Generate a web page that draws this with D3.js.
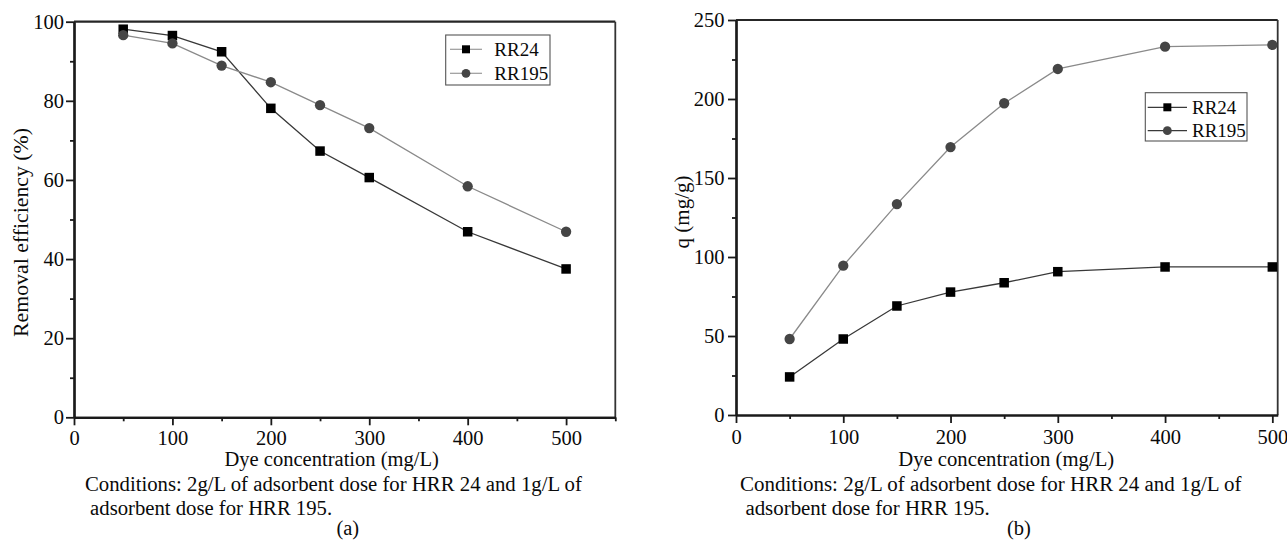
<!DOCTYPE html>
<html>
<head>
<meta charset="utf-8">
<script src="https://cdn.jsdelivr.net/npm/d3@7"></script>
<style>
  html, body { margin: 0; padding: 0; background: #fff; }
  svg { display: block; font-family: "Liberation Serif", "Times New Roman", serif; }
</style>
</head>
<body>
<svg id="chart" width="1287" height="541"></svg>
<script>
// Initial dye concentration (mg/L)
const concentration = [50, 100, 150, 200, 250, 300, 400, 500];

// (a) Removal efficiency (%)
const removalRR24  = [98.1, 96.5, 92.4, 78.1, 67.3, 60.6, 46.9, 37.5];
const removalRR195 = [96.6, 94.5, 88.9, 84.7, 78.9, 73.1, 58.4, 46.9];

// (b) Adsorption capacity q (mg/g)
const qRR24  = [24.1, 48.1, 69.0, 77.8, 83.7, 90.7, 93.7, 93.7];
const qRR195 = [48.1, 94.5, 133.5, 169.6, 197.3, 219.0, 233.1, 234.2];

const seriesNames = ["RR24", "RR195"];

// Axis ticks
const xMajorA = [0, 100, 200, 300, 400, 500];
const xMinorA = [50, 150, 250, 350, 450, 550];
const yMajorA = [0, 20, 40, 60, 80, 100];
const yMinorA = [10, 30, 50, 70, 90];
const xMajorB = [0, 100, 200, 300, 400, 500];
const xMinorB = [50, 150, 250, 350, 450];
const yMajorB = [0, 50, 100, 150, 200, 250];
const yMinorB = [25, 75, 125, 175, 225];

const xTitle = "Dye concentration (mg/L)";
const captionLine1 = "Conditions: 2g/L of adsorbent dose for HRR 24 and 1g/L of";
const captionLine2 = "adsorbent dose for HRR 195.";

const FONT = '"Liberation Serif", "Times New Roman", serif';
const TEXT_COLOR = "#0a0a0a";

const svg = d3.select("#chart");
svg.append("rect").attr("width", 1287).attr("height", 541).attr("fill", "#fff");

const styles = {
  RR24:  { line: "#383838", fill: "#000" },
  RR195: { line: "#8a8a8a", fill: "#454545" }
};

function drawMarker(g, name, cx, cy, size) {
  if (name === "RR24") {
    g.append("rect")
      .attr("x", cx - size / 2).attr("y", cy - size / 2)
      .attr("width", size).attr("height", size)
      .attr("fill", styles.RR24.fill);
  } else {
    g.append("circle")
      .attr("cx", cx).attr("cy", cy).attr("r", size / 2 + 0.4)
      .attr("fill", styles.RR195.fill);
  }
}

function addText(g, x, y, str, size, anchor) {
  return g.append("text").attr("x", x).attr("y", y)
    .attr("text-anchor", anchor || "start")
    .attr("fill", TEXT_COLOR)
    .style("font-family", FONT).style("font-size", size + "px")
    .text(str);
}

function drawPanel(cfg) {
  const g = svg.append("g");
  const x = d3.scaleLinear().domain([0, cfg.xMax]).range([cfg.left, cfg.right]);
  const y = d3.scaleLinear().domain([0, cfg.yMax]).range([cfg.bottom, cfg.top]);

  // frame (top and right)
  g.append("line").attr("x1", cfg.left).attr("x2", cfg.right)
    .attr("y1", cfg.top).attr("y2", cfg.top)
    .attr("stroke", "#262626").attr("stroke-width", 2.2);
  g.append("line").attr("x1", cfg.right).attr("x2", cfg.right)
    .attr("y1", cfg.top).attr("y2", cfg.bottom)
    .attr("stroke", "#333").attr("stroke-width", 1.8);

  // x axis: minor then major ticks
  const xMinorAxis = d3.axisBottom(x).tickValues(cfg.xMinor).tickSize(4).tickSizeOuter(0).tickFormat("");
  const xMajorAxis = d3.axisBottom(x).tickValues(cfg.xMajor).tickSize(8).tickSizeOuter(0)
    .tickPadding(cfg.xPad).tickFormat(d3.format("d"));
  const gxm = g.append("g").attr("transform", `translate(0,${cfg.bottom})`).call(xMinorAxis);
  const gx = g.append("g").attr("transform", `translate(0,${cfg.bottom})`).call(xMajorAxis);

  // y axis
  const yMinorAxis = d3.axisLeft(y).tickValues(cfg.yMinor).tickSize(4).tickSizeOuter(0).tickFormat("");
  const yMajorAxis = d3.axisLeft(y).tickValues(cfg.yMajor).tickSize(8).tickSizeOuter(0)
    .tickPadding(cfg.yPad).tickFormat(d3.format("d"));
  const gym = g.append("g").attr("transform", `translate(${cfg.left},0)`).call(yMinorAxis);
  const gy = g.append("g").attr("transform", `translate(${cfg.left},0)`).call(yMajorAxis);

  [gxm, gx, gym, gy].forEach(a => {
    a.attr("font-family", null);
    a.select(".domain").attr("stroke", "#1a1a1a").attr("stroke-width", 2.2);
    a.selectAll(".tick line").attr("stroke", "#1a1a1a").attr("stroke-width", 1.8);
    a.selectAll(".tick text").attr("fill", TEXT_COLOR)
      .style("font-family", FONT)
      .style("font-size", "20.5px");
  });

  // series lines, then markers on top
  const line = d3.line().x(d => x(d[0])).y(d => y(d[1]));
  cfg.series.forEach(s => {
    const pts = concentration.map((c, i) => [c, s.values[i]]);
    g.append("path").datum(pts).attr("d", line)
      .attr("fill", "none").attr("stroke", styles[s.name].line).attr("stroke-width", 1.3);
  });
  cfg.series.forEach(s => {
    const mg = g.append("g");
    concentration.forEach((c, i) => drawMarker(mg, s.name, x(c), y(s.values[i]), 9.5));
  });

  // legend
  const L = cfg.legend;
  g.append("rect").attr("x", L.x).attr("y", L.y).attr("width", L.w).attr("height", L.h)
    .attr("fill", "#fff").attr("stroke", "#555").attr("stroke-width", 1.1);
  seriesNames.forEach((name, i) => {
    const cy = L.rowY[i];
    g.append("line").attr("x1", L.lineX0).attr("x2", L.lineX1).attr("y1", cy).attr("y2", cy)
      .attr("stroke", L.lineColor).attr("stroke-width", 1.2);
    drawMarker(g, name, (L.lineX0 + L.lineX1) / 2, cy, 8);
    addText(g, L.textX, cy + 6.5, name, 19);
  });

  // y title
  g.append("text")
    .attr("transform", `translate(${cfg.yTitle.x},${cfg.yTitle.y}) rotate(-90)`)
    .attr("text-anchor", "middle").attr("fill", TEXT_COLOR)
    .style("font-family", FONT).style("font-size", "21px")
    .attr("textLength", cfg.yTitle.len).attr("lengthAdjust", "spacingAndGlyphs")
    .text(cfg.yTitle.text);

  // x title and captions
  const t = cfg.texts;
  addText(g, t.titleX, 466, xTitle, 20.5, "middle")
    .attr("textLength", t.titleLen).attr("lengthAdjust", "spacingAndGlyphs");
  addText(g, t.cap1X, 491, captionLine1, 20.5)
    .attr("textLength", t.cap1Len).attr("lengthAdjust", "spacingAndGlyphs");
  addText(g, t.cap2X, 515, captionLine2, 20.5)
    .attr("textLength", t.cap2Len).attr("lengthAdjust", "spacingAndGlyphs");
  addText(g, t.labelX, 535, t.label, 20.5, "middle");
}

// Panel (a): removal efficiency
drawPanel({
  left: 74, right: 615.3, top: 21.7, bottom: 417.3,
  xMax: 550, yMax: 100,
  xMajor: xMajorA, xMinor: xMinorA, yMajor: yMajorA, yMinor: yMinorA,
  xPad: 5, yPad: 2,
  series: [{ name: "RR24", values: removalRR24 }, { name: "RR195", values: removalRR195 }],
  legend: { x: 445.7, y: 35, w: 104.3, h: 50, rowY: [49.3, 73.3],
            lineX0: 450, lineX1: 482, textX: 494.3, lineColor: "#9a9a9a" },
  yTitle: { x: 27.5, y: 232.5, len: 209, text: "Removal efficiency (%)" },
  texts: { titleX: 331.7, titleLen: 214.5, cap1X: 84.9, cap1Len: 497,
           cap2X: 90.1, cap2Len: 242, labelX: 347.8, label: "(a)" }
});

// Panel (b): adsorption capacity
drawPanel({
  left: 736, right: 1277.7, top: 20, bottom: 415,
  xMax: 505, yMax: 250,
  xMajor: xMajorB, xMinor: xMinorB, yMajor: yMajorB, yMinor: yMinorB,
  xPad: 6, yPad: 3.5,
  series: [{ name: "RR24", values: qRR24 }, { name: "RR195", values: qRR195 }],
  legend: { x: 1145.3, y: 92.7, w: 101.7, h: 48.3, rowY: [107.3, 130.7],
            lineX0: 1147.7, lineX1: 1187, textX: 1192, lineColor: "#3a3a3a" },
  yTitle: { x: 689, y: 212, len: 73, text: "q (mg/g)" },
  texts: { titleX: 1006.2, titleLen: 216, cap1X: 740.1, cap1Len: 501.5,
           cap2X: 745.4, cap2Len: 244.3, labelX: 1018.9, label: "(b)" }
});
</script>
</body>
</html>
